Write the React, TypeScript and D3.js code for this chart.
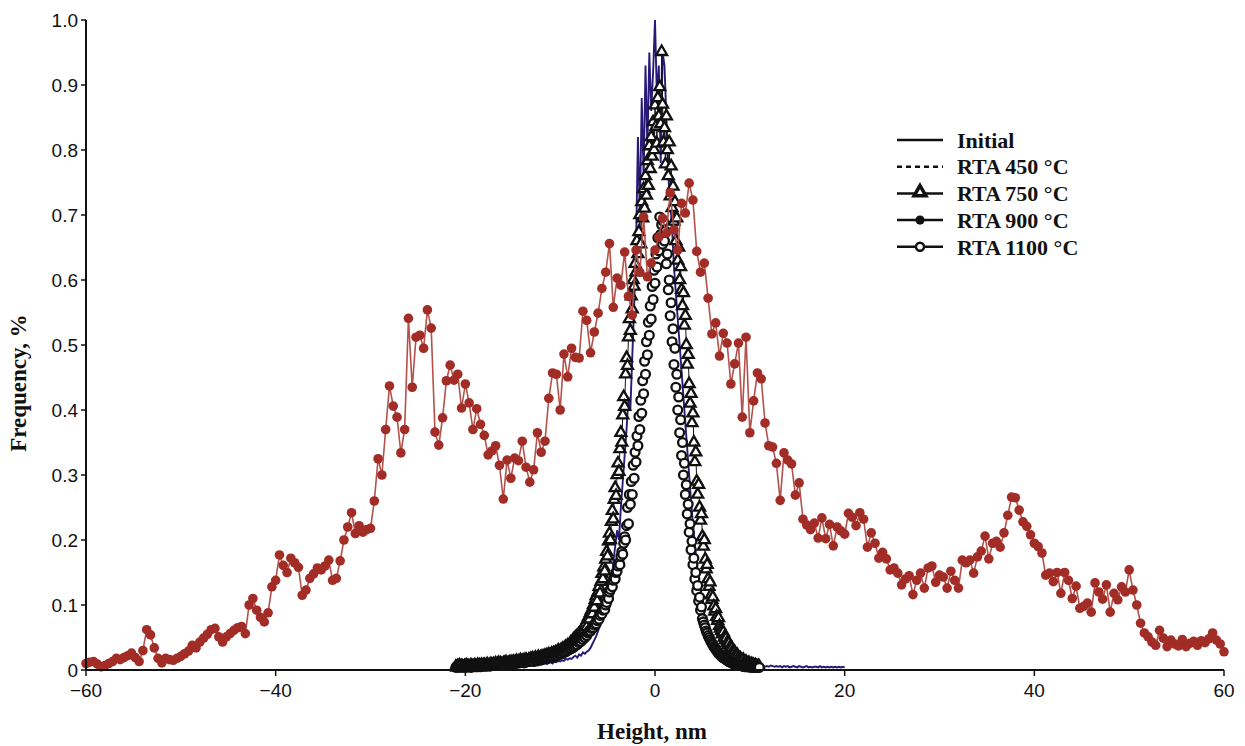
import * as d3 from 'd3';
import React from 'react';

// axis ticks
const xTicks = [-60, -40, -20, 0, 20, 40, 60];
const yTicks = [0, 0.1, 0.2, 0.3, 0.4, 0.5, 0.6, 0.7, 0.8, 0.9, 1.0];

const legendLabels = ['Initial', 'RTA 450 °C', 'RTA 750 °C', 'RTA 900 °C', 'RTA 1100 °C'];

// RTA 900 °C, heights from -60 nm in 0.4 nm steps
const rta900Start = -60;
const rta900Step = 0.4;
const rta900 = [
  0.010, 0.012, 0.013, 0.009, 0.005, 0.007, 0.010, 0.013, 0.018, 0.016,
  0.019, 0.022, 0.026, 0.019, 0.013, 0.030, 0.062, 0.054, 0.034, 0.018,
  0.011, 0.018, 0.016, 0.015, 0.018, 0.021, 0.025, 0.029, 0.038, 0.034,
  0.043, 0.049, 0.055, 0.062, 0.064, 0.051, 0.043, 0.051, 0.056, 0.061,
  0.065, 0.067, 0.056, 0.100, 0.110, 0.092, 0.081, 0.074, 0.088, 0.128,
  0.138, 0.177, 0.161, 0.150, 0.172, 0.165, 0.158, 0.115, 0.123, 0.141,
  0.148, 0.157, 0.154, 0.160, 0.169, 0.138, 0.141, 0.168, 0.200, 0.220,
  0.242, 0.210, 0.222, 0.212, 0.216, 0.218, 0.260, 0.325, 0.300, 0.370,
  0.437, 0.406, 0.389, 0.334, 0.370, 0.541, 0.435, 0.512, 0.515, 0.495,
  0.554, 0.526, 0.366, 0.346, 0.388, 0.445, 0.469, 0.446, 0.455, 0.403,
  0.440, 0.411, 0.370, 0.402, 0.378, 0.361, 0.331, 0.337, 0.345, 0.315,
  0.263, 0.323, 0.295, 0.326, 0.322, 0.352, 0.312, 0.289, 0.308, 0.365,
  0.335, 0.352, 0.418, 0.457, 0.455, 0.400, 0.486, 0.451, 0.495, 0.481,
  0.480, 0.552, 0.538, 0.488, 0.520, 0.549, 0.587, 0.612, 0.656, 0.558,
  0.603, 0.592, 0.643, 0.575, 0.546, 0.646, 0.612, 0.697, 0.605, 0.626,
  0.646, 0.666, 0.695, 0.672, 0.734, 0.677, 0.646, 0.718, 0.703, 0.749,
  0.723, 0.644, 0.612, 0.626, 0.572, 0.517, 0.534, 0.483, 0.518, 0.503,
  0.440, 0.471, 0.503, 0.389, 0.512, 0.365, 0.414, 0.457, 0.448, 0.380,
  0.345, 0.343, 0.318, 0.261, 0.334, 0.323, 0.317, 0.269, 0.288, 0.232,
  0.223, 0.216, 0.226, 0.203, 0.234, 0.202, 0.224, 0.191, 0.220, 0.214,
  0.209, 0.241, 0.235, 0.222, 0.242, 0.232, 0.189, 0.211, 0.195, 0.172,
  0.181, 0.171, 0.154, 0.157, 0.149, 0.131, 0.140, 0.145, 0.116, 0.138,
  0.149, 0.126, 0.157, 0.160, 0.135, 0.146, 0.143, 0.126, 0.152, 0.138,
  0.126, 0.169, 0.165, 0.169, 0.149, 0.174, 0.183, 0.206, 0.171, 0.195,
  0.198, 0.189, 0.211, 0.238, 0.266, 0.265, 0.246, 0.228, 0.221, 0.208,
  0.195, 0.190, 0.180, 0.146, 0.149, 0.136, 0.150, 0.118, 0.150, 0.138,
  0.110, 0.129, 0.095, 0.098, 0.103, 0.089, 0.134, 0.120, 0.109, 0.131,
  0.089, 0.118, 0.108, 0.128, 0.120, 0.154, 0.123, 0.100, 0.072, 0.057,
  0.051, 0.043, 0.038, 0.061, 0.049, 0.036, 0.046, 0.040, 0.037, 0.047,
  0.036, 0.041, 0.044, 0.038, 0.045, 0.042, 0.048, 0.057, 0.046, 0.040,
  0.028,
];

// RTA 750 °C and RTA 1100 °C, heights from -21 nm in 0.1 nm steps
const narrowStart = -21;
const narrowStep = 0.1;
const rta750 = [
  0.005, 0.004, 0.006, 0.005, 0.007, 0.004, 0.006, 0.005, 0.004, 0.006,
  0.005, 0.007, 0.005, 0.006, 0.004, 0.006, 0.007, 0.005, 0.006, 0.005,
  0.007, 0.006, 0.005, 0.008, 0.006, 0.007, 0.005, 0.008, 0.006, 0.007,
  0.008, 0.006, 0.007, 0.009, 0.007, 0.006, 0.008, 0.009, 0.007, 0.008,
  0.009, 0.007, 0.010, 0.008, 0.009, 0.011, 0.008, 0.010, 0.009, 0.008,
  0.010, 0.011, 0.009, 0.012, 0.010, 0.009, 0.011, 0.012, 0.010, 0.012,
  0.011, 0.013, 0.010, 0.012, 0.014, 0.011, 0.013, 0.012, 0.015, 0.013,
  0.014, 0.012, 0.015, 0.013, 0.016, 0.014, 0.013, 0.016, 0.015, 0.017,
  0.016, 0.018, 0.015, 0.017, 0.019, 0.016, 0.018, 0.020, 0.017, 0.019,
  0.020, 0.018, 0.021, 0.019, 0.022, 0.020, 0.023, 0.021, 0.024, 0.022,
  0.023, 0.025, 0.022, 0.026, 0.024, 0.027, 0.025, 0.028, 0.030, 0.027,
  0.029, 0.031, 0.028, 0.033, 0.030, 0.034, 0.036, 0.033, 0.038, 0.036,
  0.039, 0.042, 0.038, 0.044, 0.047, 0.043, 0.050, 0.048, 0.053, 0.051,
  0.056, 0.053, 0.060, 0.058, 0.064, 0.061, 0.068, 0.072, 0.066, 0.078,
  0.082, 0.078, 0.088, 0.092, 0.086, 0.100, 0.096, 0.108, 0.114, 0.106,
  0.120, 0.128, 0.118, 0.136, 0.148, 0.140, 0.158, 0.152, 0.170, 0.182,
  0.175, 0.198, 0.210, 0.200, 0.228, 0.245, 0.232, 0.262, 0.280, 0.268,
  0.300, 0.318, 0.305, 0.340, 0.365, 0.350, 0.392, 0.420, 0.405, 0.455,
  0.480, 0.468, 0.512, 0.540, 0.522, 0.575, 0.555, 0.600, 0.590, 0.625,
  0.612, 0.660, 0.640, 0.674, 0.700, 0.655, 0.720, 0.695, 0.740, 0.710,
  0.760, 0.730, 0.783, 0.745, 0.806, 0.771, 0.820, 0.790, 0.843, 0.800,
  0.869, 0.836, 0.810, 0.880, 0.852, 0.897, 0.840, 0.951, 0.870, 0.812,
  0.834, 0.778, 0.852, 0.800, 0.760, 0.812, 0.729, 0.775, 0.711, 0.744,
  0.690, 0.720, 0.660, 0.695, 0.630, 0.650, 0.600, 0.620, 0.585, 0.560,
  0.580, 0.530, 0.545, 0.500, 0.470, 0.485, 0.440, 0.410, 0.425, 0.380,
  0.395, 0.350, 0.320, 0.335, 0.290, 0.270, 0.285, 0.250, 0.230, 0.240,
  0.205, 0.190, 0.200, 0.170, 0.155, 0.162, 0.140, 0.128, 0.135, 0.115,
  0.108, 0.112, 0.098, 0.090, 0.094, 0.082, 0.076, 0.080, 0.068, 0.064,
  0.060, 0.055, 0.058, 0.050, 0.046, 0.049, 0.042, 0.038, 0.041, 0.035,
  0.032, 0.034, 0.029, 0.026, 0.028, 0.024, 0.021, 0.023, 0.019, 0.017,
  0.018, 0.015, 0.014, 0.016, 0.012, 0.011, 0.013, 0.010, 0.009, 0.011,
  0.009, 0.008, 0.009, 0.007, 0.008, 0.006, 0.007, 0.006, 0.005, 0.006,
  0.005,
];
const rta1100 = [
  0.004, 0.006, 0.005, 0.004, 0.006, 0.005, 0.007, 0.004, 0.005, 0.006,
  0.005, 0.004, 0.006, 0.005, 0.007, 0.005, 0.004, 0.006, 0.005, 0.006,
  0.006, 0.005, 0.007, 0.005, 0.006, 0.007, 0.005, 0.006, 0.008, 0.006,
  0.007, 0.006, 0.008, 0.006, 0.007, 0.008, 0.006, 0.008, 0.007, 0.009,
  0.007, 0.008, 0.009, 0.007, 0.009, 0.008, 0.010, 0.008, 0.009, 0.010,
  0.009, 0.010, 0.008, 0.011, 0.009, 0.010, 0.011, 0.009, 0.011, 0.010,
  0.010, 0.012, 0.011, 0.010, 0.012, 0.011, 0.013, 0.011, 0.012, 0.013,
  0.012, 0.013, 0.011, 0.014, 0.012, 0.013, 0.015, 0.013, 0.014, 0.016,
  0.014, 0.015, 0.013, 0.016, 0.015, 0.017, 0.014, 0.016, 0.018, 0.016,
  0.017, 0.016, 0.018, 0.017, 0.019, 0.018, 0.020, 0.018, 0.021, 0.019,
  0.020, 0.019, 0.021, 0.020, 0.023, 0.021, 0.024, 0.022, 0.025, 0.024,
  0.025, 0.027, 0.025, 0.028, 0.027, 0.030, 0.028, 0.031, 0.030, 0.033,
  0.032, 0.035, 0.033, 0.036, 0.035, 0.038, 0.037, 0.040, 0.039, 0.043,
  0.042, 0.045, 0.044, 0.048, 0.047, 0.051, 0.050, 0.054, 0.053, 0.057,
  0.058, 0.061, 0.060, 0.064, 0.066, 0.065, 0.069, 0.072, 0.071, 0.076,
  0.080, 0.078, 0.084, 0.088, 0.086, 0.092, 0.095, 0.093, 0.100, 0.104,
  0.114, 0.110, 0.120, 0.124, 0.130, 0.128, 0.138, 0.144, 0.140, 0.150,
  0.152, 0.160, 0.165, 0.162, 0.175, 0.182, 0.178, 0.195, 0.205, 0.200,
  0.222, 0.250, 0.225, 0.270, 0.255, 0.290, 0.270, 0.315, 0.295, 0.335,
  0.320, 0.360, 0.345, 0.390, 0.370, 0.415, 0.395, 0.445, 0.425, 0.475,
  0.455, 0.505, 0.485, 0.535, 0.515, 0.560, 0.540, 0.590, 0.570, 0.615,
  0.595, 0.640, 0.620, 0.665, 0.645, 0.697, 0.670, 0.685, 0.655, 0.690,
  0.660, 0.675, 0.625, 0.640, 0.585, 0.600, 0.545, 0.565, 0.505, 0.525,
  0.470, 0.495, 0.435, 0.455, 0.400, 0.420, 0.365, 0.385, 0.330, 0.350,
  0.300, 0.318, 0.270, 0.285, 0.240, 0.255, 0.212, 0.225, 0.185, 0.198,
  0.162, 0.172, 0.140, 0.150, 0.122, 0.130, 0.106, 0.112, 0.092, 0.097,
  0.079, 0.074, 0.069, 0.065, 0.060, 0.057, 0.053, 0.050, 0.047, 0.044,
  0.041, 0.039, 0.036, 0.034, 0.032, 0.030, 0.028, 0.026, 0.024, 0.023,
  0.021, 0.020, 0.019, 0.018, 0.017, 0.016, 0.015, 0.014, 0.013, 0.012,
  0.012, 0.011, 0.010, 0.010, 0.009, 0.009, 0.008, 0.008, 0.008, 0.007,
  0.007, 0.007, 0.006, 0.006, 0.006, 0.005, 0.006, 0.005, 0.005, 0.005,
  0.005, 0.004, 0.005, 0.004, 0.005, 0.004, 0.004, 0.005, 0.004, 0.004,
  0.004,
];

// Initial, heights from -21 nm in 0.2 nm steps
const initialStart = -21;
const initialStep = 0.2;
const initial = [
  0.004, 0.003, 0.005, 0.004, 0.003, 0.005, 0.004, 0.003, 0.004, 0.005,
  0.004, 0.005, 0.003, 0.005, 0.004, 0.006, 0.004, 0.005, 0.006, 0.004,
  0.005, 0.006, 0.005, 0.007, 0.005, 0.006, 0.007, 0.006, 0.005, 0.007,
  0.006, 0.007, 0.006, 0.008, 0.007, 0.006, 0.008, 0.007, 0.009, 0.007,
  0.008, 0.009, 0.007, 0.009, 0.010, 0.008, 0.010, 0.011, 0.009, 0.011,
  0.012, 0.010, 0.013, 0.012, 0.014, 0.013, 0.015, 0.014, 0.017, 0.016,
  0.018, 0.017, 0.020, 0.022, 0.019, 0.024, 0.022, 0.027, 0.025, 0.028,
  0.030, 0.034, 0.040, 0.046, 0.052, 0.060, 0.068, 0.078, 0.090, 0.104,
  0.120, 0.140, 0.130, 0.165, 0.190, 0.215, 0.200, 0.250, 0.290, 0.330,
  0.370, 0.420, 0.400, 0.480, 0.560, 0.650, 0.820, 0.700, 0.880, 0.760,
  0.930, 0.800, 0.950, 0.860, 0.920, 1.000, 0.880, 0.930, 0.780, 0.950,
  0.930, 0.850, 0.760, 0.720, 0.680, 0.620, 0.580, 0.540, 0.500, 0.460,
  0.420, 0.380, 0.340, 0.300, 0.260, 0.225, 0.195, 0.165, 0.140, 0.120,
  0.100, 0.085, 0.072, 0.060, 0.050, 0.042, 0.036, 0.030, 0.026, 0.022,
  0.019, 0.016, 0.014, 0.012, 0.011, 0.010, 0.009, 0.008, 0.008, 0.007,
  0.008, 0.008, 0.007, 0.007, 0.006, 0.007, 0.006, 0.006, 0.005, 0.006,
  0.006, 0.005, 0.007, 0.005, 0.006, 0.005, 0.007, 0.006, 0.005, 0.006,
  0.005, 0.006, 0.004, 0.006, 0.005, 0.006, 0.004, 0.005, 0.006, 0.005,
  0.004, 0.006, 0.005, 0.004, 0.005, 0.006, 0.004, 0.005, 0.004, 0.005,
  0.005, 0.004, 0.006, 0.004, 0.005, 0.004, 0.005, 0.004, 0.005, 0.004,
  0.005, 0.004, 0.005, 0.004, 0.005,
  0.004,
];

const toPoints = (start: number, step: number, vals: number[]) =>
  vals.map((v, i) => ({ x: start + i * step, y: v }));

const width = 1245;
const height = 746;
const margin = { top: 20, right: 21, bottom: 76, left: 86 };

const sansFont = '"Liberation Sans", Arial, Helvetica, sans-serif';
const serifFont = '"Liberation Serif", "Times New Roman", Times, serif';
const redColor = '#a22c26';
const redLine = '#b4514b';
const blueColor = '#2a1a78';

const App = () => {
  const x = d3.scaleLinear().domain([-60, 60]).range([margin.left, width - margin.right]);
  const y = d3.scaleLinear().domain([0, 1]).range([height - margin.bottom, margin.top]);

  const line = d3.line<{ x: number; y: number }>()
    .x(d => x(d.x))
    .y(d => y(d.y));

  const pts900 = toPoints(rta900Start, rta900Step, rta900);
  const pts750 = toPoints(narrowStart, narrowStep, rta750);
  const pts1100 = toPoints(narrowStart, narrowStep, rta1100);
  const ptsInit = toPoints(initialStart, initialStep, initial);

  const triangle = d3.symbol().type(d3.symbolTriangle).size(52)();
  const legendTriangle = d3.symbol().type(d3.symbolTriangle).size(60)();

  const x0 = x(-60);
  const yBase = y(0);

  const legendX = 897;
  const legendY = 140;
  const legendGap = 26.7;

  return (
    <svg width={width} height={height} style={{ position: 'absolute', left: 0, top: 0, background: '#fff' }}>
      {/* Initial */}
      <path d={line(ptsInit) || ''} fill="none" stroke={blueColor} strokeWidth={1.9} />

      {/* RTA 750 */}
      <path d={line(pts750) || ''} fill="none" stroke="#111" strokeWidth={1} />
      {pts750.map((d, i) => (
        <path key={'t' + i} d={triangle || ''} transform={`translate(${x(d.x)},${y(d.y)})`}
          fill="#fff" stroke="#111" strokeWidth={2.3} />
      ))}

      {/* RTA 1100 */}
      {pts1100.map((d, i) => (
        <circle key={'c' + i} cx={x(d.x)} cy={y(d.y)} r={4.4}
          fill="#fff" stroke="#111" strokeWidth={2.3} />
      ))}

      {/* RTA 900 */}
      <path d={line(pts900) || ''} fill="none" stroke={redLine} strokeWidth={1.6} />
      {pts900.map((d, i) => (
        <circle key={'r' + i} cx={x(d.x)} cy={y(d.y)} r={4.8} fill={redColor} />
      ))}

      {/* axes */}
      <line x1={x0} x2={x0} y1={y(1)} y2={yBase} stroke="#111" strokeWidth={2} />
      <line x1={x0} x2={x(60)} y1={yBase} y2={yBase} stroke="#111" strokeWidth={2} />
      {yTicks.map(t => (
        <g key={'yt' + t}>
          <line x1={x0 - 5} x2={x0} y1={y(t)} y2={y(t)} stroke="#111" strokeWidth={1.5} />
          <text x={x0 - 8} y={y(t)} dy="0.35em" textAnchor="end" fontFamily={sansFont} fontSize={19} fill="#111">
            {t === 0 ? '0' : t.toFixed(1)}
          </text>
        </g>
      ))}
      {xTicks.map(t => (
        <g key={'xt' + t}>
          <line x1={x(t)} x2={x(t)} y1={yBase} y2={yBase + 6} stroke="#111" strokeWidth={1.5} />
          <text x={x(t)} y={yBase + 27} textAnchor="middle" fontFamily={sansFont} fontSize={19} fill="#111">
            {t < 0 ? '\u2212' + Math.abs(t) : String(t)}
          </text>
        </g>
      ))}

      <text x={x(0) - 3} y={739} textAnchor="middle" fontFamily={serifFont} fontWeight="bold" fontSize={23} fill="#111">
        Height, nm
      </text>
      <text transform="translate(26,383) rotate(-90)" textAnchor="middle" fontFamily={serifFont} fontWeight="bold" fontSize={23} fill="#111">
        Frequency, %
      </text>

      {/* legend */}
      {legendLabels.map((label, i) => {
        const ly = legendY + i * legendGap;
        const mid = legendX + 23;
        return (
          <g key={label}>
            <line x1={legendX} x2={legendX + 46} y1={ly} y2={ly} stroke="#111" strokeWidth={2.5}
              strokeDasharray={i === 1 ? '5,4' : undefined} />
            {i === 2 && (
              <path d={legendTriangle || ''} transform={`translate(${mid},${ly - 1})`} fill="#fff" stroke="#111" strokeWidth={3.5} />
            )}
            {i === 3 && <circle cx={mid} cy={ly} r={4.6} fill="#111" />}
            {i === 4 && <circle cx={mid} cy={ly} r={4} fill="#fff" stroke="#111" strokeWidth={2.5} />}
            <text x={legendX + 60} y={ly} dy="0.35em" fontFamily={serifFont} fontWeight="bold" fontSize={22} fill="#111">
              {label}
            </text>
          </g>
        );
      })}
    </svg>
  );
};

export default App;
